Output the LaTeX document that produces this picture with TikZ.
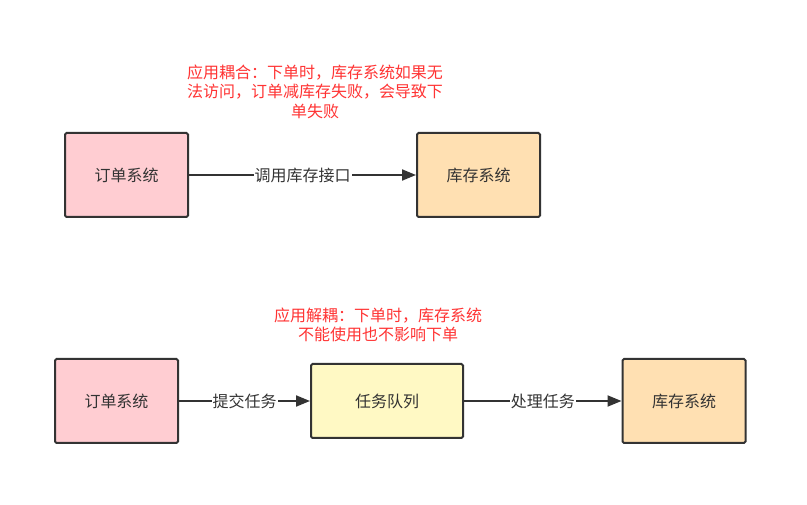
\documentclass[tikz,border=0pt]{standalone}
\usepackage{fontspec}
\setmainfont{Noto Sans CJK SC}
\usetikzlibrary{arrows.meta}
\definecolor{strokec}{HTML}{333333}
\definecolor{pinkc}{HTML}{FFCDD2}
\definecolor{orangec}{HTML}{FFE0B2}
\definecolor{yellowc}{HTML}{FFF9C4}
\definecolor{redc}{HTML}{FF3333}
\begin{document}
\begin{tikzpicture}[x=1pt,y=-1pt,
  box/.style={draw=strokec, line width=2pt, rounded corners=1.5pt, minimum width=123pt, minimum height=84pt, inner sep=0pt, text=strokec, font=\fontsize{16pt}{19pt}\selectfont},
  conn/.style={draw=strokec, line width=2pt, -{Triangle[length=14pt,width=11pt]}},
  lbl/.style={fill=white, inner sep=1pt, text=strokec, font=\fontsize{16pt}{19pt}\selectfont},
  note/.style={text=redc, align=center, inner sep=0pt, font=\fontsize{16pt}{19.5pt}\selectfont}]
\useasboundingbox (0,0) rectangle (807,505);
% top row
\node[box, fill=pinkc] (o1) at (126.5,175) {订单系统};
\node[box, fill=orangec] (s1) at (478.5,175) {库存系统};
\draw[conn] (o1) -- node[lbl] (l1) {调用库存接口} (s1);
\node[note] (n1) at (315,91.5) {应用耦合：下单时，库存系统如果无\\法访问，订单减库存失败，会导致下\\单失败};
% bottom row
\node[box, fill=pinkc] (o2) at (116.5,401) {订单系统};
\node[box, fill=yellowc, minimum width=152pt, minimum height=74pt] (q2) at (387,401) {任务队列};
\node[box, fill=orangec] (s2) at (684,401) {库存系统};
\draw[conn] (o2) -- node[lbl] (l2) {提交任务} (q2);
\draw[conn] (q2) -- node[lbl] (l3) {处理任务} (s2);
\node[note] (n2) at (378,325) {应用解耦：下单时，库存系统\\不能使用也不影响下单};
\end{tikzpicture}
\end{document}
